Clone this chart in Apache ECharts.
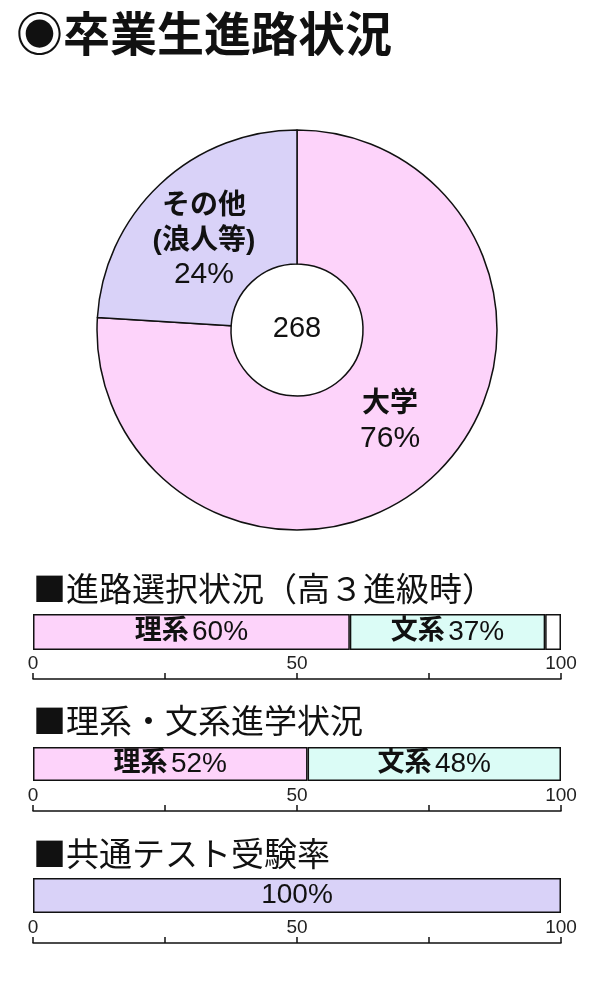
<!DOCTYPE html>
<html>
<head>
<meta charset="utf-8">
<script src="https://cdn.jsdelivr.net/npm/echarts@6/dist/echarts.min.js"></script>
<style>
html,body{margin:0;padding:0;background:#fff;}
#c{width:600px;height:1000px;}
</style>
</head>
<body>
<div id="c"></div>
<script>
// ---- data ----
const mainTitle = '◉卒業生進路状況';
const totalGraduates = 268;
const pieNames = ['大学', 'その他\n(浪人等)'];
const pieValues = [76, 24];

const choiceTitle = '■進路選択状況（高３進級時）';
const choiceNames = ['理系', '文系', ''];
const choiceValues = [60, 37, 3];

const admitTitle = '■理系・文系進学状況';
const admitNames = ['理系', '文系'];
const admitValues = [52, 48];

const testTitle = '■共通テスト受験率';
const testNames = [''];
const testValues = [100];

const axisTicks = [0, 25, 50, 75, 100];
const axisTickLabels = ['0', '50', '100'];

// ---- styles ----
const FONT = '"Liberation Sans", "Noto Sans CJK JP", sans-serif';
const CJK = '"Noto Sans CJK JP", sans-serif';
const PINK = '#FDD3FA';
const LAVENDER = '#D9D2F8';
const CYAN = '#DBFCF6';
const WHITE = '#FFFFFF';
const LINE = '#111111';

const chart = echarts.init(document.getElementById('c'), null, {renderer: 'canvas'});

const barBlocks = [
  {title: choiceTitle, names: choiceNames, values: choiceValues, colors: [PINK, CYAN, WHITE], top: 614, height: 36, titleY: 588, offset: 29},
  {title: admitTitle, names: admitNames, values: admitValues, colors: [PINK, CYAN], top: 747, height: 34, titleY: 720, offset: 30},
  {title: testTitle, names: testNames, values: testValues, colors: [LAVENDER], top: 878, height: 35, titleY: 853, offset: 30}
];

const grids = [], xAxes = [], yAxes = [], series = [];
const graphics = [
  {type: 'text', x: 16, y: 33, style: {text: mainTitle, font: 'bold 47px ' + CJK, fill: '#111', verticalAlign: 'middle'}},
  {type: 'text', x: 297, y: 329, style: {text: String(totalGraduates), font: '29px ' + FONT, fill: '#111', align: 'center', verticalAlign: 'middle'}, z: 100}
];

barBlocks.forEach((b, i) => {
  grids.push({left: 33, top: b.top, width: 528, height: b.height, containLabel: false});
  graphics.push({type: 'text', x: 33, y: b.titleY, style: {text: b.title, font: '33px ' + CJK, fill: '#111', verticalAlign: 'middle'}});
  xAxes.push({
    type: 'value', gridIndex: i, min: axisTicks[0], max: axisTicks[axisTicks.length - 1],
    interval: axisTicks[1] - axisTicks[0], position: 'bottom', offset: b.offset,
    splitLine: {show: false},
    axisLine: {show: true, lineStyle: {color: LINE, width: 1.5}},
    axisTick: {show: true, inside: true, length: 6, lineStyle: {color: LINE, width: 1.5}},
    axisLabel: {
      show: true, inside: true, margin: 6, fontSize: 19, fontFamily: FONT, color: '#222',
      showMinLabel: true, showMaxLabel: true,
      formatter: v => axisTickLabels.indexOf(String(v)) >= 0 ? String(v) : ''
    }
  });
  yAxes.push({type: 'category', gridIndex: i, data: ['x'], show: false});
  b.values.forEach((v, j) => {
    series.push({
      type: 'bar', xAxisIndex: i, yAxisIndex: i, stack: 'bar' + i,
      barWidth: '100%', barCategoryGap: 0,
      data: [v],
      itemStyle: {color: b.colors[j], borderColor: LINE, borderWidth: 1.5},
      label: {
        show: b.colors[j] !== WHITE, position: 'inside',
        formatter: () => b.names[j] ? `{k|${b.names[j]}} {n|${v}%}` : `{n|${v}%}`,
        rich: {
          k: {fontSize: 27, fontWeight: 'bold', fontFamily: FONT, color: '#111'},
          n: {fontSize: 28, fontFamily: FONT, color: '#111'}
        }
      },
      emphasis: {disabled: true},
      silent: true
    });
  });
});

series.push({
  type: 'pie',
  center: [297, 330],
  radius: [66, 200],
  startAngle: 90,
  clockwise: true,
  silent: true,
  data: pieNames.map((n, i) => ({name: n, value: pieValues[i], itemStyle: {color: i === 0 ? PINK : LAVENDER}})),
  itemStyle: {borderColor: LINE, borderWidth: 1.5},
  label: {
    show: true, position: 'inside', color: '#111',
    formatter: p => p.name.split('\n').map(s => `{k|${s}}`).join('\n') + `\n{n|${p.value}%}`,
    rich: {
      k: {fontSize: 28, fontWeight: 'bold', fontFamily: FONT, color: '#111', lineHeight: 35},
      n: {fontSize: 30, fontFamily: FONT, color: '#111', lineHeight: 33}
    }
  },
  labelLine: {show: false},
  labelLayout: p => p.dataIndex === 1 ? {dy: 9} : {dy: -8},
  emphasis: {disabled: true}
});

chart.setOption({
  animation: false,
  backgroundColor: '#fff',
  grid: grids,
  xAxis: xAxes,
  yAxis: yAxes,
  series: series,
  graphic: graphics
});
</script>
</body>
</html>
